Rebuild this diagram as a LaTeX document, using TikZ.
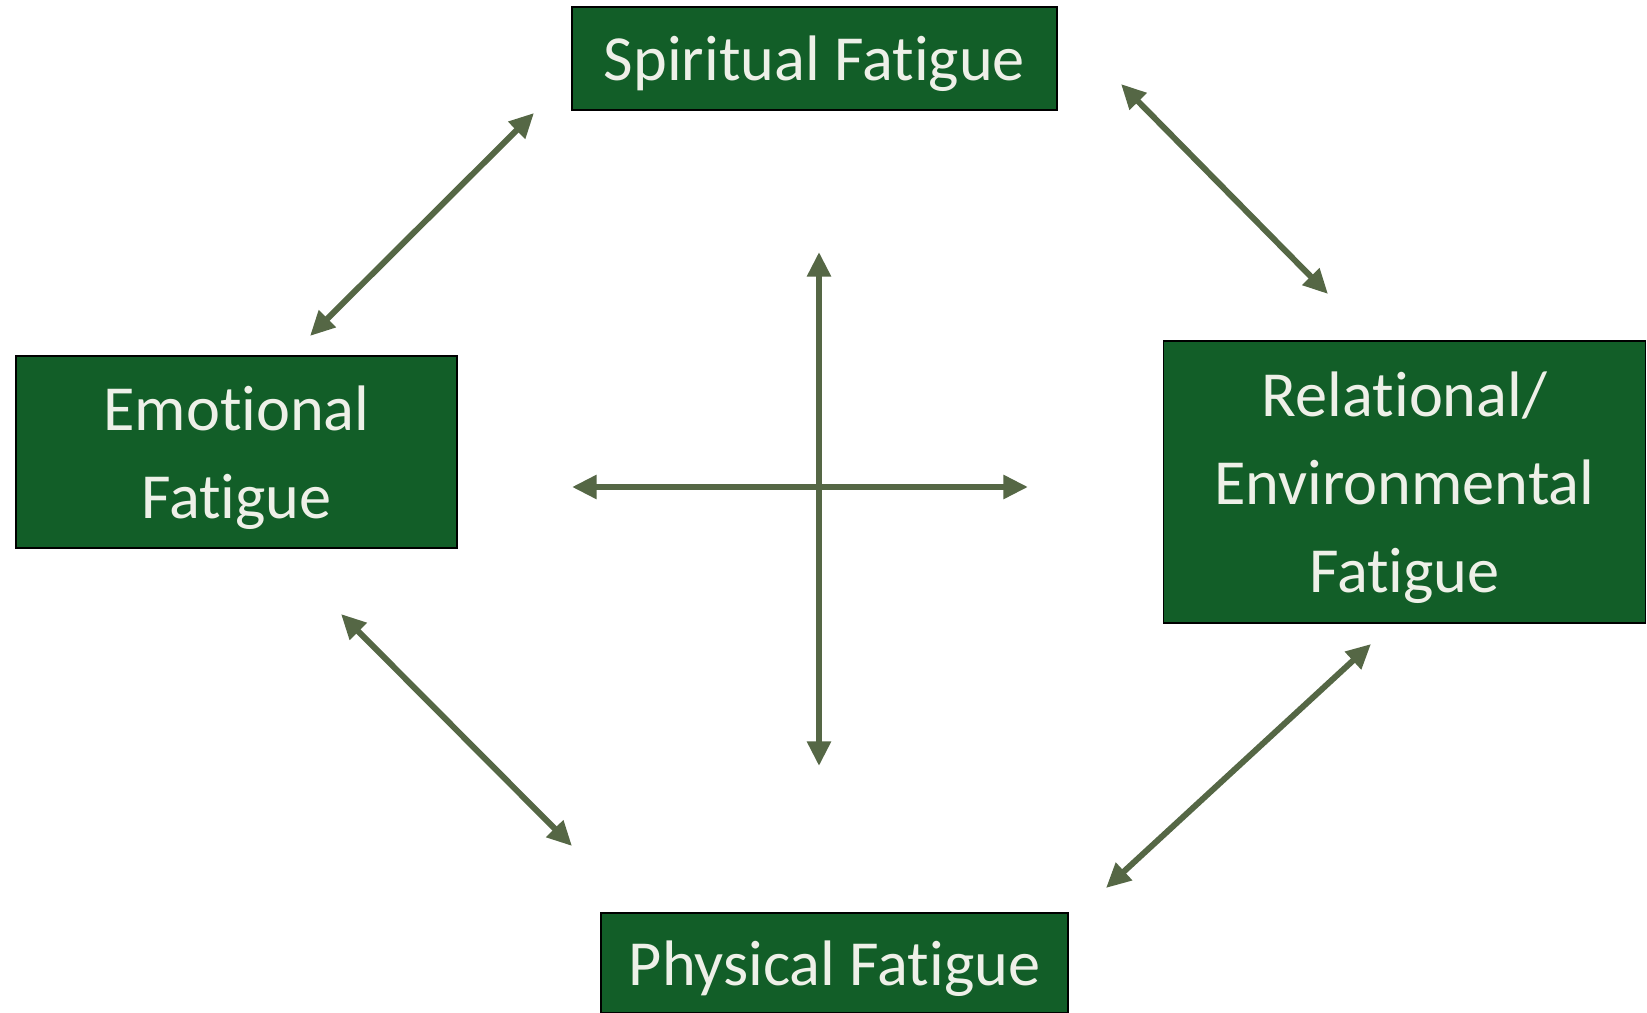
\documentclass[tikz,border=0pt]{standalone}
\usepackage{fontspec}
\setmainfont{Carlito}[Ligatures=NoCommon]
\usepackage{tikz}
\usetikzlibrary{arrows.meta}
\definecolor{boxgreen}{RGB}{18,94,40}
\definecolor{boxtext}{RGB}{238,240,232}
\definecolor{arrowolive}{RGB}{85,103,69}

\begin{document}
\begin{tikzpicture}[x=0.02cm,y=-0.02cm]
\tikzstyle{box}=[rectangle,draw=black,line width=0.8pt,fill=boxgreen,text=boxtext,align=center,inner sep=0pt,text depth=0pt,font=\fontsize{36.6}{50}\selectfont]
\tikzstyle{link}=[{Triangle[length=14pt,width=13pt]}-{Triangle[length=14pt,width=13pt]},line width=3.4pt,draw=arrowolive,fill=arrowolive]
\useasboundingbox (0,0) rectangle (1647,1013);

% Fatigue boxes
\node (SF) [box,minimum width=485*0.02cm,minimum height=103*0.02cm] at (814.5,58.5) {Spiritual Fatigue};
\node (EF) [box,minimum width=441*0.02cm,minimum height=192*0.02cm] at (236.5,452) {Emotional\\Fatigue};
\node (RF) [box,minimum width=482*0.02cm,minimum height=282*0.02cm] at (1404.5,482) {Relational/\\Environmental\\Fatigue};
\node (PF) [box,minimum width=467*0.02cm,minimum height=100*0.02cm] at (834.5,963) {Physical Fatigue};

% Free arrow ends
\coordinate (SEa) at (534,113); \coordinate (SEb) at (310,336);
\coordinate (SRa) at (1121,84); \coordinate (SRb) at (1328,294);
\coordinate (EPa) at (341,614); \coordinate (EPb) at (572,846);
\coordinate (RPa) at (1371,644); \coordinate (RPb) at (1106,888);
\coordinate (up) at (819,252); \coordinate (down) at (819,766);
\coordinate (left) at (572,487); \coordinate (right) at (1028,487);

\draw[link] (SEa) -- (SEb);
\draw[link] (SRa) -- (SRb);
\draw[link] (EPa) -- (EPb);
\draw[link] (RPa) -- (RPb);

% Cross in the middle
\draw[link] (up) -- (down);
\draw[link] (left) -- (right);

\end{tikzpicture}
\end{document}
